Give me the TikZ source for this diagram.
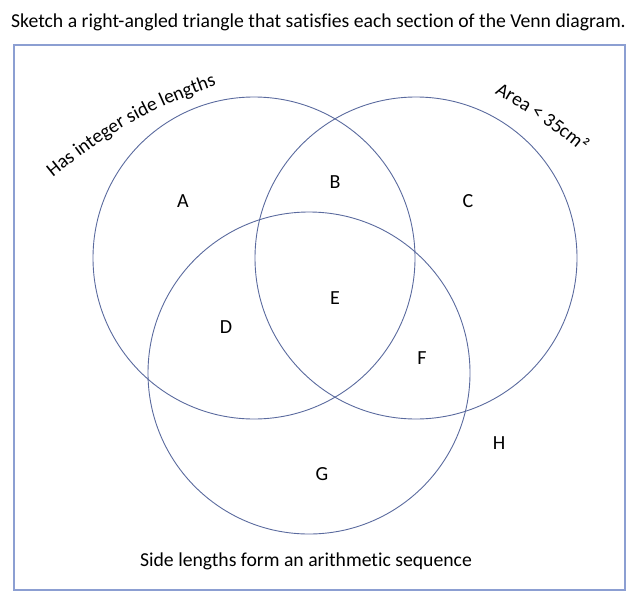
\documentclass[tikz,border=0pt]{standalone}
\usepackage{fontspec}
\setmainfont[Ligatures=NoCommon]{Carlito}
\usetikzlibrary{decorations.text}
\definecolor{venncol}{HTML}{5A6A9E}
\definecolor{boxcol}{HTML}{8C9FD2}
\begin{document}
\begin{tikzpicture}[x=1pt,y=-1pt,
  venn/.style={circle,draw=venncol,line width=0.9pt,minimum size=322pt,inner sep=0pt},
  lbl/.style={font=\fontsize{20}{24}\selectfont,inner sep=0pt},
  txt/.style={font=\fontsize{19.7}{24}\selectfont,inner sep=0pt}]
\useasboundingbox (0,0) rectangle (639,602);
\node[txt] (title) at (318.5,22) {Sketch a right-angled triangle that satisfies each section of the Venn diagram.};
\draw[boxcol,line width=1.1pt] (14,45) rectangle (625,590);
\node[venn] (c1) at (254,258) {};
\node[venn] (c2) at (416,258) {};
\node[venn] (c3) at (309,373) {};
\node[lbl] (A) at (183,201) {A};
\node[lbl] (B) at (335,182) {B};
\node[lbl] (C) at (468,201) {C};
\node[lbl] (D) at (226,327) {D};
\node[lbl] (E) at (335,298) {E};
\node[lbl] (F) at (422,358) {F};
\node[lbl] (G) at (322,474) {G};
\node[lbl] (H) at (499,443) {H};
\node[txt] (seq) at (306,561) {Side lengths form an arithmetic sequence};
\coordinate (h1) at (50,180);
\coordinate (h2) at (220,84);
\path[decorate,decoration={text along path,text align=center,
  text={|\fontsize{19.5}{24}\selectfont|Has integer side lengths}}]
  (h1) to[bend left=10] (h2);
\coordinate (a1) at (485,88);
\coordinate (a2) at (590,160);
\path[decorate,decoration={text along path,text align=center,
  text={|\fontsize{19.5}{24}\selectfont|Area < 35cm²}}]
  (a1) to[bend left=6] (a2);
\end{tikzpicture}
\end{document}
